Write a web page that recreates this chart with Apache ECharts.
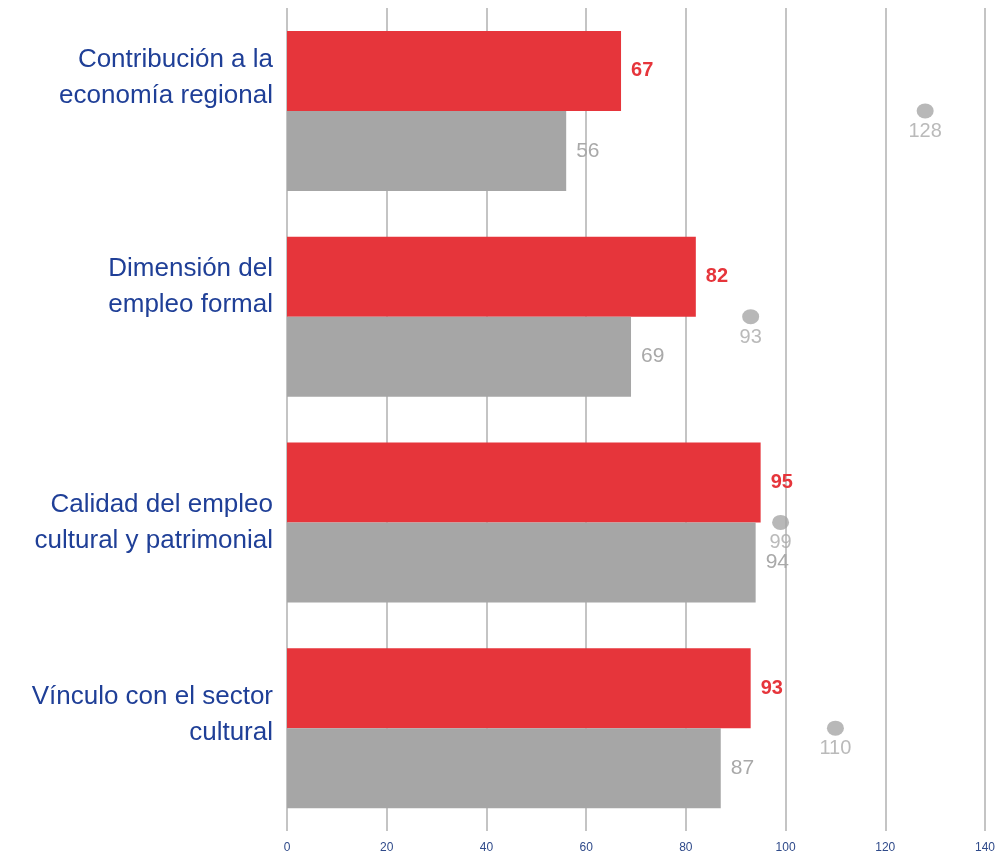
<!DOCTYPE html>
<html>
<head>
<meta charset="utf-8">
<script src="https://cdn.jsdelivr.net/npm/echarts@6/dist/echarts.min.js"></script>
<style>
  html, body { margin: 0; padding: 0; background: #fff; }
  #chart { width: 998px; height: 854px; }
</style>
</head>
<body>
<div id="chart"></div>
<script>
const categories = [
    'Contribución a la\neconomía regional',
    'Dimensión del\nempleo formal',
    'Calidad del empleo\ncultural y patrimonial',
    'Vínculo con el sector\ncultural'
];
const redValues = [67, 82, 95, 93];
const grayValues = [56, 69, 94, 87];
const dotValues = [128, 93, 99, 110];
const xTicks = { min: 0, max: 140, interval: 20 };

// how far each category label sits above its band centre (px)
const labelLift = [33, 30, 0, 13];

const FONT = '"Liberation Sans", Arial, sans-serif';

const colors = {
    red: '#e6353b',
    gray: '#a6a6a6',
    grayText: '#a9a9a9',
    dot: '#a6a6a6',
    blue: '#1f3f97',
    tick: '#2f4a8a',
    grid: '#c4c4c4'
};

function buildRich() {
    const rich = {
        t: { color: colors.blue, fontSize: 26, lineHeight: 36, fontFamily: FONT, align: 'right' }
    };
    labelLift.forEach((d, i) => {
        if (d > 0) rich['s' + i] = { fontSize: 1, lineHeight: d * 2, align: 'right' };
    });
    return rich;
}

window.onload = () => {
    const chart = echarts.init(document.getElementById('chart'));

    const option = {
        animation: false,
        grid: { left: 287, right: 13, top: 8, bottom: 22 },
        xAxis: {
            type: 'value',
            min: xTicks.min,
            max: xTicks.max,
            interval: xTicks.interval,
            axisLine: { show: false },
            axisTick: { show: false },
            axisLabel: {
                color: colors.tick,
                fontSize: 12,
                fontFamily: FONT,
                margin: 11
            },
            splitLine: { show: true, lineStyle: { color: colors.grid, width: 2 } }
        },
        yAxis: {
            type: 'category',
            inverse: true,
            data: categories,
            axisLine: { show: false },
            axisTick: { show: false },
            axisLabel: {
                align: 'right',
                margin: 14,
                formatter: (value, index) => {
                    let s = value.split('\n').map(l => '{t|' + l + '}').join('\n');
                    if (labelLift[index] > 0) s += '\n{s' + index + '| }';
                    return s;
                },
                rich: buildRich()
            }
        },
        series: [
            {
                name: 'Rojo',
                type: 'bar',
                data: redValues,
                barWidth: 80,
                barGap: '0%',
                itemStyle: { color: colors.red },
                label: {
                    show: true,
                    position: 'right',
                    distance: 10,
                    color: colors.red,
                    fontWeight: 'bold',
                    fontSize: 20,
                    fontFamily: FONT
                }
            },
            {
                name: 'Gris',
                type: 'bar',
                data: grayValues,
                barWidth: 80,
                barGap: '0%',
                itemStyle: { color: colors.gray },
                label: {
                    show: true,
                    position: 'right',
                    distance: 10,
                    color: colors.grayText,
                    fontSize: 21,
                    fontFamily: FONT
                }
            },
            {
                name: 'Punto',
                type: 'scatter',
                data: dotValues.map((v, i) => [v, categories[i]]),
                symbol: 'circle',
                symbolSize: [17, 15],
                itemStyle: { color: colors.dot },
                label: {
                    show: true,
                    position: 'bottom',
                    distance: 3,
                    formatter: p => p.value[0],
                    color: colors.grayText,
                    fontSize: 20,
                    fontFamily: FONT
                },
                z: 5
            }
        ]
    };

    chart.setOption(option);
};
</script>
</body>
</html>
